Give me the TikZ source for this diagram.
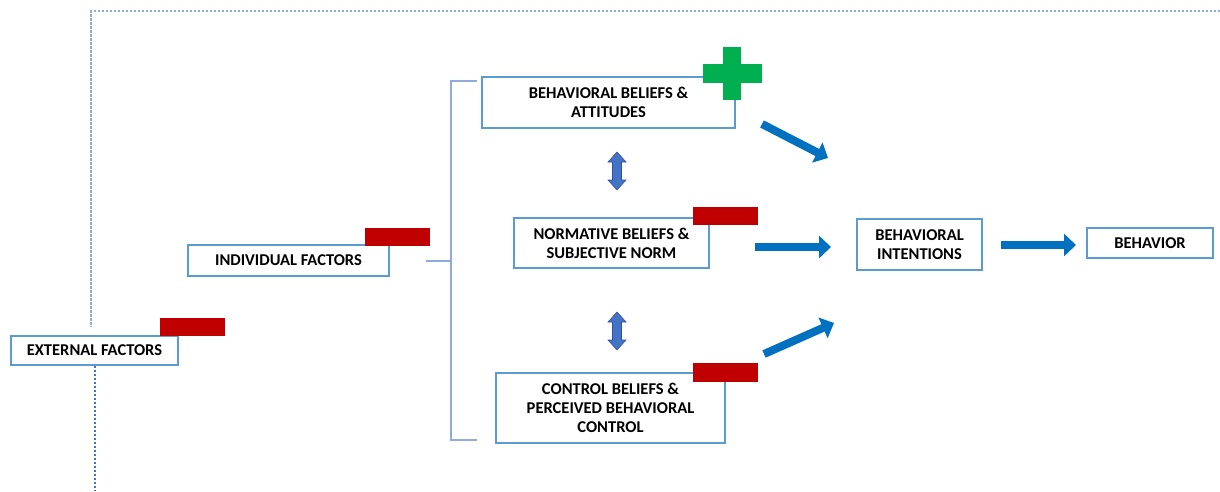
\documentclass[tikz,border=0pt]{standalone}
\usepackage{fontspec}
\setmainfont{Carlito}
\usetikzlibrary{arrows.meta}
\definecolor{boxblue}{HTML}{5B9BD5}
\definecolor{arrblue}{HTML}{0070C0}
\definecolor{dblfill}{HTML}{4472C4}
\definecolor{dbldraw}{HTML}{2F5597}
\definecolor{minusred}{HTML}{C00000}
\definecolor{plusgreen}{HTML}{00B050}
\definecolor{linegray}{HTML}{8FAADC}
\tikzset{
  box/.style={draw=boxblue, line width=1.2pt, fill=white, align=center, inner sep=0pt,
    font=\bfseries\fontsize{16.5}{19}\selectfont},
  bracketline/.style={draw=linegray, line width=1.3pt},
  dashline/.style={draw=linegray, line width=1.2pt, dash pattern=on 2.5pt off 1.5pt},
  blockarrow/.style={draw=arrblue, line width=8pt, -{Triangle[length=12pt,width=22pt]}},
  minusbar/.style={fill=minusred},
  dblarrow/.pic={
    \filldraw[fill=dblfill, draw=dbldraw, line width=0.6pt]
      (0,-19) -- (-9,-9) -- (-4.5,-9) -- (-4.5,9) -- (-9,9) -- (0,19)
      -- (9,9) -- (4.5,9) -- (4.5,-9) -- (9,-9) -- cycle;
  }
}
\begin{document}
\begin{tikzpicture}[x=1pt,y=-1pt]
\useasboundingbox (0,0) rectangle (1220,491);
% dashed frame
\coordinate (fTR) at (1220,11);
\coordinate (fTL) at (91,11);
\coordinate (fBL) at (91,327);
\draw[dashline] (fTR) -- (fTL) -- (fBL);
% bracket
\coordinate (brT) at (477,81);
\coordinate (brTL) at (451,81);
\coordinate (brBL) at (451,440);
\coordinate (brB) at (477,440);
\coordinate (brM) at (451,261);
\coordinate (indOut) at (426,261);
\draw[bracketline] (brT) -- (brTL) -- (brBL) -- (brB);
\draw[bracketline] (indOut) -- (brM);
% boxes
\node[box, minimum width=167pt, minimum height=29pt] (ext) at (94.5,350.5) {EXTERNAL FACTORS};
\node[box, minimum width=201pt, minimum height=31pt] (ind) at (288.5,260.5) {INDIVIDUAL FACTORS};
\node[box, minimum width=253pt, minimum height=51pt] (bb) at (608.5,102.5) {BEHAVIORAL BELIEFS \&\\ATTITUDES};
\node[box, minimum width=195pt, minimum height=50pt] (nb) at (611.5,243) {NORMATIVE BELIEFS \&\\SUBJECTIVE NORM};
\node[box, minimum width=229pt, minimum height=70pt] (cb) at (610.5,408) {CONTROL BELIEFS \&\\PERCEIVED BEHAVIORAL\\CONTROL};
\node[box, minimum width=125pt, minimum height=51pt] (bi) at (919.5,244.5) {BEHAVIORAL\\INTENTIONS};
\node[box, minimum width=126pt, minimum height=30pt] (beh) at (1150,243) {BEHAVIOR};
% dashed line below external factors
\coordinate (extDown) at (95,491);
\draw[dashline, draw=dblfill, line width=1.1pt, dash pattern=on 2.5pt off 1.5pt] (ext.south -| extDown) -- (extDown);
% red minus bars
\fill[minusbar] (160,318) rectangle (225,336);
\fill[minusbar] (365,228) rectangle (430,246);
\fill[minusbar] (693,207) rectangle (758,225);
\fill[minusbar] (693,363) rectangle (758,382);
% green plus
\fill[plusgreen] (723,47) rectangle (741,100);
\fill[plusgreen] (703,64) rectangle (762,83);
% double arrows
\pic at (617,171) {dblarrow};
\pic at (617,331) {dblarrow};
% block arrows
\coordinate (a1s) at (762,124);
\coordinate (a1e) at (828,158);
\coordinate (a2s) at (755,247);
\coordinate (a2e) at (831,247);
\coordinate (a3s) at (764,354);
\coordinate (a3e) at (834,323);
\coordinate (a4s) at (1001,245);
\coordinate (a4e) at (1076,245);
\draw[blockarrow] (a1s) -- (a1e);
\draw[blockarrow] (a2s) -- (a2e);
\draw[blockarrow] (a3s) -- (a3e);
\draw[blockarrow] (a4s) -- (a4e);
\end{tikzpicture}
\end{document}
